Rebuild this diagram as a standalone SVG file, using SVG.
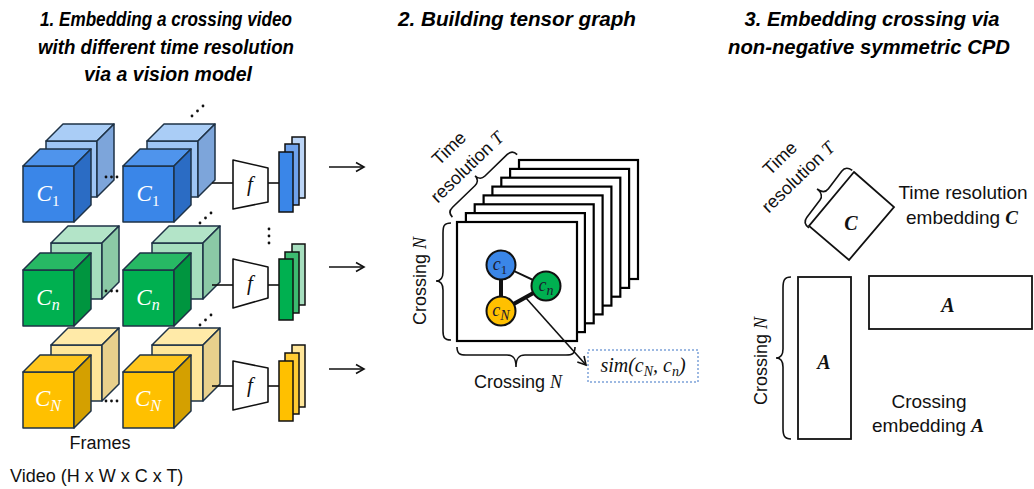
<svg xmlns="http://www.w3.org/2000/svg" width="1034" height="489" viewBox="0 0 1034 489">
<style>
.title{font-family:"Liberation Sans",Arial,sans-serif;font-weight:bold;font-style:italic;font-size:20.5px;fill:#000;text-anchor:middle}
.lbl{font-family:"Liberation Sans",Arial,sans-serif;font-size:18px;fill:#111}
.lbl19{font-family:"Liberation Sans",Arial,sans-serif;font-size:19px;fill:#111}
.math{font-family:"Liberation Serif","Times New Roman",serif;font-style:italic}
.bm{font-family:"Liberation Serif","Times New Roman",serif;font-style:italic;font-weight:bold}
.cube polygon,.cube rect{stroke:#1E3246;stroke-width:1.5;stroke-linejoin:round}
.bF rect{fill:#3A86E8}.bF .t{fill:#4F94EC}.bF .s{fill:#2B6CC4}
.bB rect{fill:#9EC5F4}.bB .t{fill:#AACDF6}.bB .s{fill:#7DA5DA}
.gF rect{fill:#00B050}.gF .t{fill:#27B964}.gF .s{fill:#00953F}
.gB rect{fill:#A6DEBE}.gB .t{fill:#B3E4C8}.gB .s{fill:#8BC9A6}
.yF rect{fill:#FFC000}.yF .t{fill:#FFC61C}.yF .s{fill:#D4A000}
.yB rect{fill:#FFE699}.yB .t{fill:#FFEAA8}.yB .s{fill:#E8D08C}
.clab{font-family:"Liberation Serif","Times New Roman",serif;font-style:italic;font-size:23px;fill:#fff;text-anchor:middle}
.fbox{fill:#fff;stroke:#111;stroke-width:1.6;stroke-linejoin:round}
.flab{font-family:"Liberation Serif","Times New Roman",serif;font-style:italic;font-size:21px;fill:#111;text-anchor:middle}
.stk{stroke:#111;stroke-width:1.5}
.dot{fill:#111}
.ln{stroke:#111;stroke-width:1.6;fill:none}
.sq{fill:#fff;stroke:#000;stroke-width:2.2}
.brace{fill:none;stroke:#111;stroke-width:1.6}
.node{stroke:#111;stroke-width:2}
.nlab{font-family:"Liberation Serif","Times New Roman",serif;font-style:italic;font-size:18px;fill:#1a1a2e;text-anchor:middle}
.emb{fill:#fff;stroke:#111;stroke-width:1.8}
</style>
<defs>
<marker id="arr" markerWidth="12" markerHeight="12" refX="10" refY="6" orient="auto" markerUnits="userSpaceOnUse">
<path d="M2,1.5 L10,6 L2,10.5" fill="none" stroke="#111" stroke-width="1.6"/>
</marker>
</defs>

<rect width="1034" height="489" fill="#fff"/>

<!-- Titles -->
<g id="titles">
<text class="title" x="166" y="26" textLength="252" lengthAdjust="spacingAndGlyphs">1. Embedding a crossing video</text>
<text class="title" x="166" y="54" textLength="256" lengthAdjust="spacingAndGlyphs">with different time resolution</text>
<text class="title" x="168" y="81" textLength="168" lengthAdjust="spacingAndGlyphs">via a vision model</text>
<text class="title" x="517" y="26" textLength="238" lengthAdjust="spacingAndGlyphs">2. Building tensor graph</text>
<text class="title" x="872" y="26" textLength="255" lengthAdjust="spacingAndGlyphs">3. Embedding crossing via</text>
<text class="title" x="869" y="54" textLength="282" lengthAdjust="spacingAndGlyphs">non-negative symmetric CPD</text>
</g>

<!-- Section 1: videos -->
<g id="video-blue">
<g class="cube bB" transform="translate(46,141)"><rect x="0" y="0" width="51" height="56"/><polygon class="t" points="0,0 17,-17 68,-17 51,0"/><polygon class="s" points="51,0 68,-17 68,39 51,56"/></g>
<g class="cube bF" transform="translate(23,166)"><rect x="0" y="0" width="51" height="56"/><polygon class="t" points="0,0 17,-17 68,-17 51,0"/><polygon class="s" points="51,0 68,-17 68,39 51,56"/></g>
<g class="cube bB" transform="translate(147,141)"><rect x="0" y="0" width="51" height="56"/><polygon class="t" points="0,0 17,-17 68,-17 51,0"/><polygon class="s" points="51,0 68,-17 68,39 51,56"/></g>
<g class="cube bF" transform="translate(123,166)"><rect x="0" y="0" width="51" height="56"/><polygon class="t" points="0,0 17,-17 68,-17 51,0"/><polygon class="s" points="51,0 68,-17 68,39 51,56"/></g>
<text class="clab" x="48" y="201">C<tspan font-style="normal" font-size="15" dy="5">1</tspan></text>
<text class="clab" x="148" y="201">C<tspan font-style="normal" font-size="15" dy="5">1</tspan></text>
</g>
<g id="video-green">
<g class="cube gB" transform="translate(51,243)"><rect x="0" y="0" width="51" height="56"/><polygon class="t" points="0,0 17,-17 68,-17 51,0"/><polygon class="s" points="51,0 68,-17 68,39 51,56"/></g>
<g class="cube gF" transform="translate(23,270)"><rect x="0" y="0" width="51" height="56"/><polygon class="t" points="0,0 17,-17 68,-17 51,0"/><polygon class="s" points="51,0 68,-17 68,39 51,56"/></g>
<g class="cube gB" transform="translate(152,243)"><rect x="0" y="0" width="51" height="56"/><polygon class="t" points="0,0 17,-17 68,-17 51,0"/><polygon class="s" points="51,0 68,-17 68,39 51,56"/></g>
<g class="cube gF" transform="translate(123,270)"><rect x="0" y="0" width="51" height="56"/><polygon class="t" points="0,0 17,-17 68,-17 51,0"/><polygon class="s" points="51,0 68,-17 68,39 51,56"/></g>
<text class="clab" x="48" y="305">C<tspan font-size="16" dy="5">n</tspan></text>
<text class="clab" x="148" y="305">C<tspan font-size="16" dy="5">n</tspan></text>
</g>
<g id="video-yellow">
<g class="cube yB" transform="translate(51,345)"><rect x="0" y="0" width="51" height="56"/><polygon class="t" points="0,0 17,-17 68,-17 51,0"/><polygon class="s" points="51,0 68,-17 68,39 51,56"/></g>
<g class="cube yF" transform="translate(23,372)"><rect x="0" y="0" width="51" height="56"/><polygon class="t" points="0,0 17,-17 68,-17 51,0"/><polygon class="s" points="51,0 68,-17 68,39 51,56"/></g>
<g class="cube yB" transform="translate(152,345)"><rect x="0" y="0" width="51" height="56"/><polygon class="t" points="0,0 17,-17 68,-17 51,0"/><polygon class="s" points="51,0 68,-17 68,39 51,56"/></g>
<g class="cube yF" transform="translate(123,372)"><rect x="0" y="0" width="51" height="56"/><polygon class="t" points="0,0 17,-17 68,-17 51,0"/><polygon class="s" points="51,0 68,-17 68,39 51,56"/></g>
<text class="clab" x="48" y="406">C<tspan font-size="16" dy="5">N</tspan></text>
<text class="clab" x="148" y="406">C<tspan font-size="16" dy="5">N</tspan></text>
</g>

<g id="dots">
<circle class="dot" cx="106" cy="177" r="1.4"/><circle class="dot" cx="111.5" cy="177" r="1.4"/><circle class="dot" cx="117" cy="177" r="1.4"/>
<circle class="dot" cx="106" cy="291" r="1.4"/><circle class="dot" cx="111.5" cy="291" r="1.4"/><circle class="dot" cx="117" cy="291" r="1.4"/>
<circle class="dot" cx="106" cy="401" r="1.4"/><circle class="dot" cx="111.5" cy="401" r="1.4"/><circle class="dot" cx="117" cy="401" r="1.4"/>
<circle class="dot" cx="192" cy="116" r="1.4"/><circle class="dot" cx="197.5" cy="111" r="1.4"/><circle class="dot" cx="203" cy="106" r="1.4"/>
<circle class="dot" cx="200" cy="223" r="1.4"/><circle class="dot" cx="205.5" cy="218" r="1.4"/><circle class="dot" cx="211" cy="213" r="1.4"/>
<circle class="dot" cx="200" cy="325" r="1.4"/><circle class="dot" cx="205.5" cy="320" r="1.4"/><circle class="dot" cx="211" cy="315" r="1.4"/>
<circle class="dot" cx="269" cy="229" r="1.4"/><circle class="dot" cx="269" cy="236" r="1.4"/><circle class="dot" cx="269" cy="243" r="1.4"/>
</g>

<!-- connectors -->
<g id="connectors">
<line class="ln" x1="212" y1="183" x2="233" y2="183"/>
<line class="ln" x1="268" y1="183" x2="279" y2="183"/>
<line class="ln" x1="212" y1="285" x2="233" y2="285"/>
<line class="ln" x1="268" y1="285" x2="279" y2="285"/>
<line class="ln" x1="212" y1="386" x2="233" y2="386"/>
<line class="ln" x1="268" y1="386" x2="279" y2="386"/>
<line class="ln" x1="329" y1="167" x2="364" y2="167" marker-end="url(#arr)"/>
<line class="ln" x1="329" y1="267" x2="364" y2="267" marker-end="url(#arr)"/>
<line class="ln" x1="329" y1="369" x2="364" y2="369" marker-end="url(#arr)"/>
</g>

<g id="f-blue">
<polygon class="fbox" points="233,160 268,168 268,202 233,209"/>
<text class="flab" x="250" y="191">f</text>
</g>
<g id="f-green">
<polygon class="fbox" points="233,259 268,267 268,298 233,308"/>
<text class="flab" x="250" y="290">f</text>
</g>
<g id="f-yellow">
<polygon class="fbox" points="233,361 268,368 268,402 233,410"/>
<text class="flab" x="250" y="392">f</text>
</g>

<g id="emb-blue">
<rect class="stk" x="292" y="137" width="13" height="61" fill="#BCD5F6"/>
<rect class="stk" x="285" y="144" width="14" height="61" fill="#6FA2EC"/>
<rect class="stk" x="279" y="152" width="14" height="60" fill="#3A86E8"/>
</g>
<g id="emb-green">
<rect class="stk" x="292" y="244" width="13" height="61" fill="#A6DEBE"/>
<rect class="stk" x="285" y="252" width="14" height="61" fill="#3CBB70"/>
<rect class="stk" x="279" y="259" width="14" height="61" fill="#00B050"/>
</g>
<g id="emb-yellow">
<rect class="stk" x="292" y="345" width="13" height="62" fill="#FFE699"/>
<rect class="stk" x="285" y="353" width="14" height="61" fill="#FFCB33"/>
<rect class="stk" x="279" y="361" width="14" height="60" fill="#FFC000"/>
</g>

<g id="frames-labels">
<text class="lbl" x="100" y="449" text-anchor="middle" font-size="17">Frames</text>
<text class="lbl" x="10" y="482">Video (H x W x C x T)</text>
</g>

<!-- Section 2: tensor graph -->
<g id="tensor">
<rect class="sq" x="519" y="160" width="119" height="119"/>
<rect class="sq" x="510.1" y="168.9" width="119" height="119"/>
<rect class="sq" x="501.3" y="177.7" width="119" height="119"/>
<rect class="sq" x="492.4" y="186.6" width="119" height="119"/>
<rect class="sq" x="483.6" y="195.4" width="119" height="119"/>
<rect class="sq" x="474.7" y="204.3" width="119" height="119"/>
<rect class="sq" x="465.9" y="213.1" width="119" height="119"/>
<rect class="sq" x="457" y="222" width="120" height="119"/>
</g>

<g id="graph-edges">
<line x1="501" y1="265" x2="546" y2="286" stroke="#111" stroke-width="2"/>
<line x1="501" y1="265" x2="501" y2="311" stroke="#111" stroke-width="4"/>
<line x1="501" y1="311" x2="546" y2="286" stroke="#111" stroke-width="4"/>
<line class="ln" x1="526" y1="298" x2="586" y2="365" marker-end="url(#arr)"/>
</g>
<g id="node-c1">
<circle class="node" cx="501" cy="265" r="14.5" fill="#3A86E8"/>
<text class="nlab" x="500" y="270">c<tspan font-style="normal" font-size="13" dy="4">1</tspan></text>
</g>
<g id="node-cn">
<circle class="node" cx="546" cy="286" r="14.5" fill="#00B050"/>
<text class="nlab" x="546" y="291">c<tspan font-size="14" dy="4">n</tspan></text>
</g>
<g id="node-cN">
<circle class="node" cx="501" cy="311" r="14.5" fill="#FFC000"/>
<text class="nlab" x="501" y="316">c<tspan font-size="14" dy="4">N</tspan></text>
</g>

<g id="sim-box">
<rect x="588" y="350" width="110" height="32" fill="#fff" stroke="#9DB9E2" stroke-width="2" stroke-dasharray="2,2"/>
<text x="643" y="372" text-anchor="middle" font-family="'Liberation Serif','Times New Roman',serif" font-style="italic" font-size="20" fill="#111">sim(c<tspan font-size="14" dy="4">N</tspan><tspan dy="-4">, c</tspan><tspan font-size="14" dy="4">n</tspan><tspan dy="-4">)</tspan></text>
</g>

<g id="braces-mid">
<path class="brace" d="M451,223 C444,223 443,226 443,233 L443,272 C443,278 441,281 436,281 C441,281 443,284 443,290 L443,331 C443,337 444,340 451,340"/>
<path class="brace" d="M457,347 C457,354 460,355 466,355 L507,355 C513,355 516,358 516,367 C516,358 519,355 525,355 L566,355 C572,355 575,354 575,347"/>
<path class="brace" transform="translate(482,183) rotate(-44)" d="M-45,4 C-45,-1 -43,-3 -38,-3 L-7,-3 C-3,-3 0,-5 0,-10 C0,-5 3,-3 7,-3 L38,-3 C43,-3 45,-1 45,4"/>
<text class="lbl" transform="translate(426,281) rotate(-90)" text-anchor="middle">Crossing <tspan class="math">N</tspan></text>
<text class="lbl" x="518" y="388" text-anchor="middle">Crossing <tspan class="math">N</tspan></text>
<g transform="translate(467,167) rotate(-44)">
<text class="lbl" x="0" y="-20" text-anchor="middle">Time</text>
<text class="lbl" x="0" y="6" text-anchor="middle">resolution <tspan class="math">T</tspan></text>
</g>
</g>

<!-- Section 3 -->
<g id="time-embedding">
<polygon class="emb" points="854,172 894,207 849,260 809,226"/>
<text class="bm" x="851" y="230" text-anchor="middle" font-size="20" fill="#111">C</text>
<path class="brace" transform="translate(829,198) rotate(-53)" d="M-36,2 C-36,-3 -34,-6 -29,-6 L-7,-6 C-3,-6 0,-9 0,-15 C0,-9 3,-6 7,-6 L29,-6 C34,-6 36,-3 36,2"/>
<g transform="translate(798,177) rotate(-44)">
<text class="lbl" x="0" y="-20" text-anchor="middle">Time</text>
<text class="lbl" x="0" y="6" text-anchor="middle">resolution <tspan class="math">T</tspan></text>
</g>
<text class="lbl19" x="963" y="199" text-anchor="middle">Time resolution</text>
<text class="lbl19" x="962" y="224" text-anchor="middle">embedding <tspan class="bm">C</tspan></text>
</g>

<g id="crossing-embedding">
<rect class="emb" x="798" y="277" width="53" height="162"/>
<rect class="emb" x="869" y="276" width="163" height="53"/>
<text class="bm" x="824" y="369" text-anchor="middle" font-size="20" fill="#111">A</text>
<text class="bm" x="948" y="312" text-anchor="middle" font-size="20" fill="#111">A</text>
<path class="brace" d="M791,277 C784,277 783,281 783,288 L783,349 C783,355 781,358 776,358 C781,358 783,361 783,367 L783,428 C783,435 784,439 791,439"/>
<text class="lbl" transform="translate(767,361) rotate(-90)" text-anchor="middle">Crossing <tspan class="math">N</tspan></text>
<text class="lbl19" x="929" y="408" text-anchor="middle">Crossing</text>
<text class="lbl19" x="928" y="432" text-anchor="middle">embedding <tspan class="bm">A</tspan></text>
</g>
</svg>
